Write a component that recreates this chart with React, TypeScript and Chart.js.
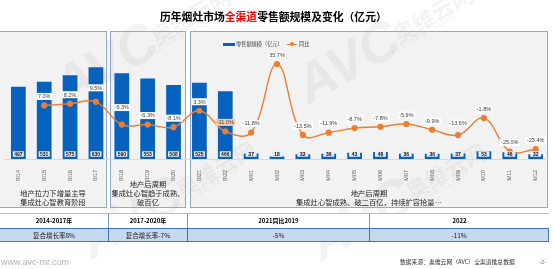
import React, { useEffect, useRef } from 'react';
import { Chart, registerables } from 'chart.js';

Chart.register(...registerables);

// ---------- data ----------
const categories = ['2014', '2015', '2016', '2017', '2018', '2019', '2020', '2021', '2022', '22M01', '22M02', '22M03', '22M04', '22M05', '22M06', '22M07', '22M08', '22M09', '22M10', '22M11', '22M12'];
const retailSales = [497, 531, 575, 630, 590, 553, 508, 525, 466, 37, 18, 33, 36, 43, 48, 36, 36, 37, 53, 46, 32];
const yoyGrowth: (number | null)[] = [null, 7.0, 8.2, 9.5, -6.3, -6.3, -8.1, 3.3, -11.0, -11.8, 35.7, -13.5, -11.9, -8.7, -7.8, -5.9, -9.9, -13.6, -1.8, -25.0, -23.4];
const seriesNames = ['零售额规模（亿元）', '同比'];
const periodHeaders = ['2014-2017年', '2017-2020年', '2021同比2019', '2022'];
const periodGrowth = ['复合增长率8%', '复合增长率-7%', '-5%', '-11%'];
const panelNotes = [
  ['地产拉力下增量主导', '集成灶心智教育阶段'],
  ['地产后周期', '集成灶心智趋于成熟、', '破百亿'],
  ['地产后周期', '集成灶心智成熟、破二百亿，持续扩容抢量…'],
];
const titleParts = ['历年烟灶市场', '全渠道', '零售额规模及变化（亿元）'];
const sourceText = '数据来源：奥维云网（AVC）全渠道推总数据';
const siteText = 'www.avc-mr.com';
const pageText = '-2-';

const BLUE = '#0662bd';
const ORANGE = '#ed7d31';
const CJK = '"Noto Sans CJK SC", "Noto Sans", sans-serif';
const LAT = '"Liberation Sans", Arial, sans-serif';

const labelPlugin = {
  id: 'valueLabels',
  afterDatasetsDraw(chart: any) {
    const ctx = chart.ctx;
    const barMeta = chart.getDatasetMeta(0);
    const lineMeta = chart.getDatasetMeta(1);
    const bottom = chart.chartArea.bottom;
    ctx.save();
    ctx.textAlign = 'center';
    ctx.textBaseline = 'middle';
    ctx.font = `bold 5px ${LAT}`;
    barMeta.data.forEach((el: any, i: number) => {
      const x = el.x;
      const y = bottom - 5;
      const w = 11;
      const h = 5.5;
      ctx.fillStyle = '#e6edf7';
      ctx.fillRect(x - w / 2, y - h / 2, w, h);
      ctx.fillStyle = '#111111';
      ctx.fillText(String(retailSales[i]), x, y + 0.3);
    });
    ctx.font = `5.5px ${LAT}`;
    lineMeta.data.forEach((el: any, i: number) => {
      const v = yoyGrowth[i];
      if (v == null) return;
      const lift = i === 3 ? 14 : i === 4 ? 17 : i === 17 ? 12 : 9;
      const text = (v < 0 ? '-' : '') + Math.abs(v).toFixed(1) + '%';
      const tw = ctx.measureText(text).width;
      const w = tw + 3;
      const h = 7;
      const cx = el.x;
      const cy = el.y - lift;
      ctx.fillStyle = i === 8 ? '#f8cbad' : '#ffffff';
      ctx.fillRect(cx - w / 2, cy - h / 2, w, h);
      ctx.fillStyle = '#404040';
      ctx.fillText(text, cx, cy + 0.3);
    });
    ctx.restore();
  },
};

function Watermark({ ox, oy }: { ox: number; oy: number }) {
  const color = 'rgba(160,160,160,0.13)';
  const base: React.CSSProperties = {
    position: 'absolute',
    transform: 'translate(-50%, -50%) rotate(-30deg)',
    whiteSpace: 'nowrap',
    color,
    pointerEvents: 'none',
  };
  return (
    <>
      <div style={{ ...base, left: ox - 85, top: oy + 48, font: `italic 900 54px ${LAT}` }}>AVC</div>
      <div style={{ ...base, left: ox, top: oy, font: `700 22px ${CJK}` }}>奥维云网</div>
      <div style={{ ...base, left: ox - 9, top: oy + 21, font: `700 7px ${LAT}`, letterSpacing: '1px' }}>ALL VIEW CLOUD</div>
    </>
  );
}

export default function App() {
  const canvasRef = useRef<HTMLCanvasElement | null>(null);

  useEffect(() => {
    const canvas = canvasRef.current;
    if (!canvas) return;
    const chart = new Chart(canvas, {
      type: 'bar',
      data: {
        labels: categories,
        datasets: [
          {
            type: 'bar',
            label: seriesNames[0],
            data: retailSales,
            yAxisID: 'y',
            backgroundColor: BLUE,
            barPercentage: 0.57,
            categoryPercentage: 1,
            order: 2,
          },
          {
            type: 'line',
            label: seriesNames[1],
            data: yoyGrowth,
            yAxisID: 'y1',
            borderColor: ORANGE,
            borderWidth: 1.4,
            backgroundColor: ORANGE,
            pointBackgroundColor: ORANGE,
            pointBorderColor: ORANGE,
            pointRadius: 2.4,
            tension: 0.4,
            clip: false,
            order: 1,
          } as any,
        ],
      },
      options: {
        responsive: false,
        maintainAspectRatio: false,
        devicePixelRatio: 1,
        animation: false,
        layout: { padding: { top: 32, bottom: 88, left: 0, right: 4 } },
        plugins: {
          legend: { display: false },
          title: { display: false },
          tooltip: { enabled: false },
        },
        scales: {
          x: {
            grid: { display: false },
            border: { display: true, color: '#d9d9d9', width: 1 },
            ticks: {
              minRotation: 90,
              maxRotation: 90,
              autoSkip: false,
              padding: 3,
              color: '#595959',
              font: { size: 5.5, family: LAT },
            },
            afterFit: (s: any) => {
              s.height = 22;
            },
          },
          y: { display: false, min: 0, max: 873 },
          y1: { display: false, position: 'right', min: -30.2, max: 58 },
        },
      } as any,
      plugins: [labelPlugin],
    });
    return () => chart.destroy();
  }, []);

  const panels = [
    { left: -1, width: 108 },
    { left: 110, width: 76 },
    { left: 190, width: 358 },
  ];
  const noteTops = [[189, 198], [180, 189, 198], [189, 198]];
  const cols = [0, 108, 187, 369, 549];

  return (
    <div style={{ position: 'absolute', left: 0, top: 0, width: 554, height: 269, background: '#ffffff', overflow: 'hidden' }}>
      {panels.map((p, i) => (
        <div key={'p' + i} style={{ position: 'absolute', left: p.left, top: 31, width: p.width, height: 177, boxSizing: 'border-box', background: '#f2f2f2', border: '1px solid #8ea9d8' }} />
      ))}
      <Watermark ox={190} oy={15} />
      <Watermark ox={432} oy={13} />
      <Watermark ox={215} oy={168} />
      <Watermark ox={445} oy={170} />
      <canvas ref={canvasRef} width={554} height={269} style={{ position: 'absolute', left: 0, top: 0, width: 554, height: 269 }} />
      {/* title */}
      <div style={{ position: 'absolute', left: 160, top: 8, whiteSpace: 'nowrap', font: `700 10.8px ${CJK}`, color: '#000', lineHeight: '16px' }}>
        <span>{titleParts[0]}</span>
        <span style={{ color: '#ff0000' }}>{titleParts[1]}</span>
        <span>{titleParts[2]}</span>
      </div>
      {/* legend */}
      <div style={{ position: 'absolute', left: 223, top: 42.5, width: 12, height: 3.5, background: BLUE }} />
      <div style={{ position: 'absolute', left: 236, top: 40, whiteSpace: 'nowrap', font: `5.2px ${CJK}`, color: '#404040', lineHeight: '8px' }}>{seriesNames[0]}</div>
      <div style={{ position: 'absolute', left: 287, top: 43.5, width: 10, height: 1.4, background: ORANGE }} />
      <div style={{ position: 'absolute', left: 290, top: 42, width: 4, height: 4, borderRadius: 2, background: ORANGE }} />
      <div style={{ position: 'absolute', left: 299, top: 40, whiteSpace: 'nowrap', font: `5.2px ${CJK}`, color: '#404040', lineHeight: '8px' }}>{seriesNames[1]}</div>
      {/* panel notes */}
      {panelNotes.map((lines, i) =>
        lines.map((t, j) => (
          <div key={'n' + i + '-' + j} style={{ position: 'absolute', left: panels[i].left, width: panels[i].width, top: noteTops[i][j], textAlign: 'center', whiteSpace: 'nowrap', font: `7.3px ${CJK}`, color: '#262626', lineHeight: '9px' }}>{t}</div>
        ))
      )}
      {/* table */}
      {periodHeaders.map((t, i) => (
        <div key={'h' + i} style={{ position: 'absolute', left: cols[i], top: 213, width: cols[i + 1] - cols[i], height: 15, boxSizing: 'border-box', borderTop: '1px solid #a9c1e6', borderLeft: i > 0 ? '1px solid #6f98d2' : 'none', background: '#ffffff', textAlign: 'center', font: `700 6px ${CJK}`, color: '#000', lineHeight: '14px', whiteSpace: 'nowrap' }}>{t}</div>
      ))}
      {periodGrowth.map((t, i) => (
        <div key={'g' + i} style={{ position: 'absolute', left: cols[i], top: 228, width: cols[i + 1] - cols[i], height: 14, boxSizing: 'border-box', borderTop: '1px solid #3f72c0', borderBottom: '1px solid #3f72c0', borderLeft: i > 0 ? '1px solid #3f72c0' : 'none', borderRight: i === 3 ? '1px solid #3f72c0' : 'none', background: '#c6d9f1', textAlign: 'center', font: `6.5px ${CJK}`, color: '#1a1a1a', lineHeight: '12px', whiteSpace: 'nowrap' }}>{t}</div>
      ))}
      {/* footer */}
      <div style={{ position: 'absolute', left: 1, top: 256, font: `9px ${LAT}`, color: '#b3b3b3', whiteSpace: 'nowrap', lineHeight: '12px' }}>{siteText}</div>
      <div style={{ position: 'absolute', left: 400, top: 258, font: `5.8px ${CJK}`, color: '#333', whiteSpace: 'nowrap', lineHeight: '8px' }}>{sourceText}</div>
      <div style={{ position: 'absolute', left: 539, top: 258, font: `6px ${LAT}`, color: '#7f7f7f', whiteSpace: 'nowrap', lineHeight: '8px' }}>{pageText}</div>
    </div>
  );
}
